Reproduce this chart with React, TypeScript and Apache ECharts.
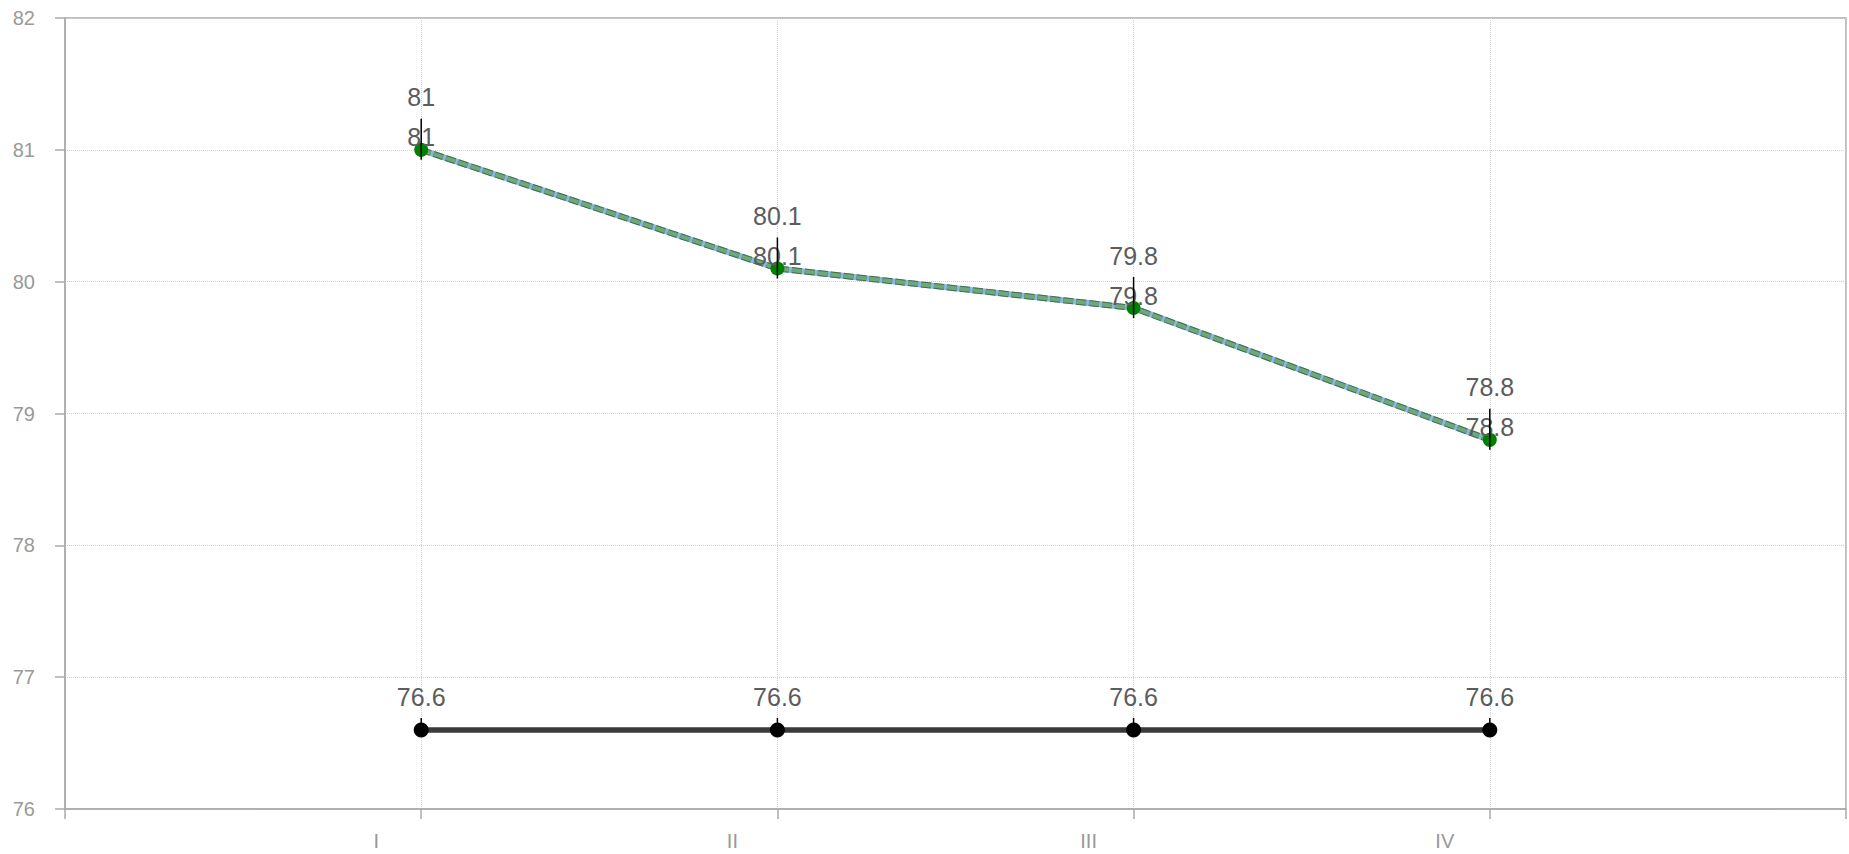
import React, { useEffect, useRef } from "react";
import * as echarts from "echarts";

const categories = ["", "I", "II", "III", "IV", ""];
const mainValues = [null, 81, 80.1, 79.8, 78.8, null];
const baseValues = [null, 76.6, 76.6, 76.6, 76.6, null];
const yTicks = { min: 76, max: 82, interval: 1 };

export default function App() {
  const ref = useRef<HTMLDivElement>(null);
  useEffect(() => {
    document.body.style.margin = "0";
    const chart = echarts.init(ref.current!, null, { renderer: "svg" });
    const labelStyle = { color: "#5c5c5c", fontSize: 25, fontFamily: "Liberation Sans, Arial, sans-serif" };
    chart.setOption({
      animation: false,
      grid: {
        left: 65,
        right: 2,
        top: 18,
        bottom: 45,
        show: true,
        borderColor: "#aaa",
        borderWidth: 1.5,
      },
      xAxis: {
        type: "category",
        data: categories,
        boundaryGap: false,
        axisLine: { lineStyle: { color: "#aaa", width: 1.5 } },
        axisTick: { show: true, length: 10, interval: 0, lineStyle: { color: "#aaa", width: 1.5 } },
        axisLabel: {
          interval: 0,
          color: "#999",
          fontSize: 20,
          margin: 22,
          padding: [0, 90, 0, 0],
        },
        splitLine: { show: true, interval: 0, lineStyle: { type: "dotted", color: "#d0d0d0", width: 1 } },
      },
      yAxis: {
        type: "value",
        min: yTicks.min,
        max: yTicks.max,
        interval: yTicks.interval,
        axisLine: { show: true, lineStyle: { color: "#aaa", width: 1.5 } },
        axisTick: { show: true, length: 10, lineStyle: { color: "#aaa", width: 1.5 } },
        axisLabel: { color: "#999", fontSize: 20, margin: 30 },
        splitLine: { show: true, lineStyle: { type: "dotted", color: "#d0d0d0", width: 1 } },
      },
      series: [
        {
          type: "line",
          data: mainValues,
          symbol: "none",
          lineStyle: { color: "#8ab8e6", width: 6 },
          z: 2,
        },
        {
          type: "line",
          data: mainValues,
          symbol: "none",
          lineStyle: { color: "#3f6e4b", width: 6, type: [10, 3] },
          z: 3,
        },
        {
          type: "line",
          data: mainValues,
          symbol: "circle",
          symbolSize: 14,
          itemStyle: { color: "#008000" },
          lineStyle: { color: "#6fa87c", width: 4, type: [10, 3] },
          label: { show: true, position: "top", distance: -7, ...labelStyle },
          z: 4,
        },
        {
          type: "scatter",
          data: mainValues,
          symbolSize: 14,
          itemStyle: { color: "transparent", opacity: 1 },
          label: { show: true, position: "top", distance: 33, ...labelStyle },
          z: 5,
        },
        {
          type: "scatter",
          data: mainValues,
          symbol: "rect",
          symbolSize: [1.5, 41],
          symbolOffset: [0, -10.5],
          itemStyle: { color: "#000", opacity: 1 },
          z: 6,
        },
        {
          type: "scatter",
          data: baseValues,
          symbol: "rect",
          symbolSize: [1.5, 12],
          symbolOffset: [0, -6],
          itemStyle: { color: "#000", opacity: 1 },
          z: 3,
        },
        {
          type: "line",
          data: baseValues,
          symbol: "circle",
          symbolSize: 15,
          itemStyle: { color: "#000" },
          lineStyle: { color: "#3a3a3a", width: 5.5 },
          label: { show: true, position: "top", distance: 13, ...labelStyle },
          z: 4,
        },
      ],
    });
    return () => chart.dispose();
  }, []);
  return <div ref={ref} style={{ width: 1849, height: 854 }} />;
}
